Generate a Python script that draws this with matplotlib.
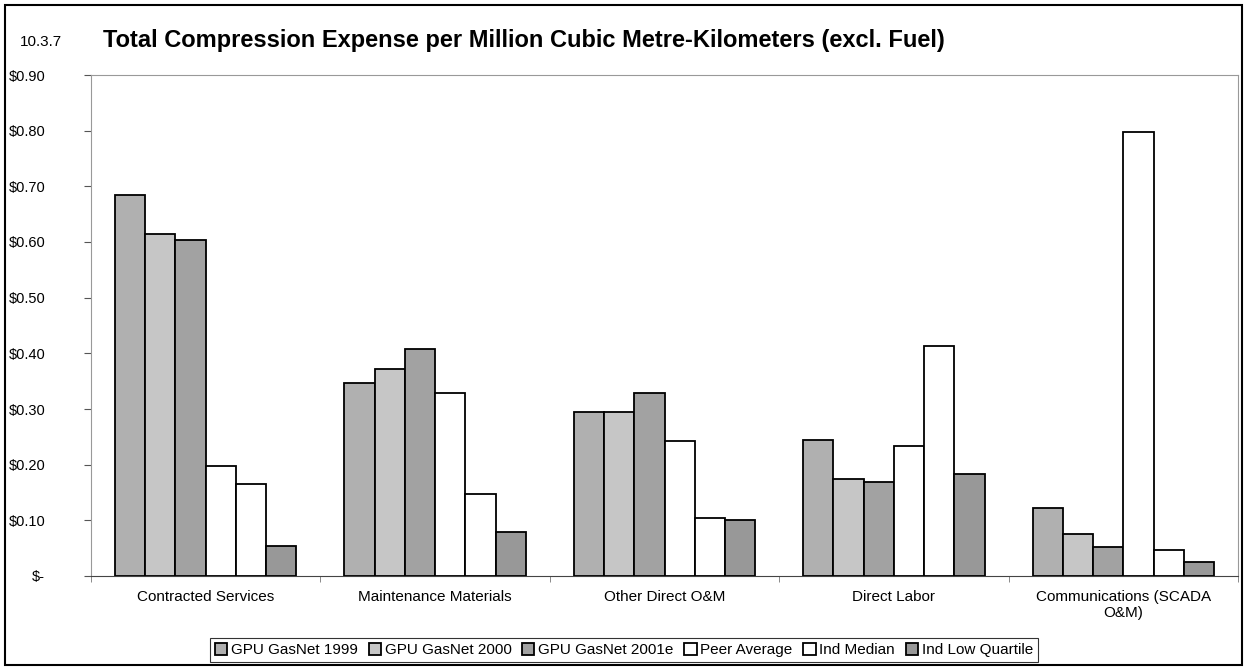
import numpy as np
import matplotlib
matplotlib.use('Agg')
import matplotlib.pyplot as plt
from matplotlib.patches import Rectangle
from matplotlib.ticker import FuncFormatter

plt.rcParams['font.family'] = ['Liberation Sans', 'DejaVu Sans']

categories = ['Contracted Services', 'Maintenance Materials', 'Other Direct O&M',
              'Direct Labor', 'Communications (SCADA\nO&M)']
series_names = ['GPU GasNet 1999', 'GPU GasNet 2000', 'GPU GasNet 2001e',
                'Peer Average', 'Ind Median', 'Ind Low Quartile']
gasnet_1999 = [0.684, 0.346, 0.294, 0.244, 0.122]
gasnet_2000 = [0.614, 0.371, 0.294, 0.174, 0.075]
gasnet_2001e = [0.604, 0.408, 0.329, 0.169, 0.052]
peer_average = [0.198, 0.329, 0.243, 0.234, 0.797]
ind_median = [0.165, 0.147, 0.104, 0.413, 0.047]
ind_low_quartile = [0.054, 0.079, 0.101, 0.184, 0.026]
y_ticks = [0.0, 0.1, 0.2, 0.3, 0.4, 0.5, 0.6, 0.7, 0.8, 0.9]

series = [gasnet_1999, gasnet_2000, gasnet_2001e, peer_average, ind_median, ind_low_quartile]
fills = ['#b0b0b0', '#c6c6c6', '#a2a2a2', 'white', 'white', '#989898']

fig = plt.figure(figsize=(12.47, 6.70), dpi=100)
ax = fig.add_axes([91 / 1247, 1 - 576 / 670, (1238 - 91) / 1247, (576 - 75) / 670])

x = np.arange(len(categories))
n = len(series)
width = 0.79 / n
for i, (vals, name, col) in enumerate(zip(series, series_names, fills)):
    offs = (i - (n - 1) / 2) * width
    ax.bar(x + offs, vals, width, color=col, edgecolor='black', linewidth=1.3,
           label=name, zorder=3)

ax.set_xlim(-0.5, len(categories) - 0.5)
ax.set_ylim(0, 0.9)
ax.set_yticks(y_ticks)
ax.yaxis.set_major_formatter(FuncFormatter(lambda v, p: '$-' if v == 0 else f'${v:.2f}'))
ax.tick_params(axis='y', labelsize=10.5, length=5, color='#555555', pad=28)
ax.set_xticks(x)
ax.set_xticklabels(categories, fontsize=11)
ax.tick_params(axis='x', length=0, pad=10)
ax.set_xticks(np.arange(len(categories) + 1) - 0.5, minor=True)
ax.tick_params(axis='x', which='minor', length=4, color='#777777')
for s in ax.spines.values():
    s.set_color('#999999')
    s.set_linewidth(0.8)
ax.spines['bottom'].set_color('#444444')

fig.text(20 / 1247, 1 - 42 / 670, '10.3.7', fontsize=11, va='center', ha='left')
fig.text(103 / 1247, 1 - 40 / 670,
         'Total Compression Expense per Million Cubic Metre-Kilometers (excl. Fuel)',
         fontsize=17, fontweight='bold', va='center', ha='left')

leg = ax.legend(loc='center', bbox_to_anchor=(624 / 1247, 1 - 650 / 670),
                bbox_transform=fig.transFigure, ncol=6, fontsize=11, frameon=True,
                fancybox=False, edgecolor='black', handlelength=0.8, handleheight=0.8,
                handletextpad=0.25, columnspacing=0.7, borderpad=0.3)
leg.get_frame().set_linewidth(0.8)

fig.patches.append(Rectangle((5 / 1247, 5 / 670), 1237 / 1247, 660 / 670,
                             transform=fig.transFigure, fill=False,
                             edgecolor='black', linewidth=1.5))

fig.savefig('out.png', dpi=100)
